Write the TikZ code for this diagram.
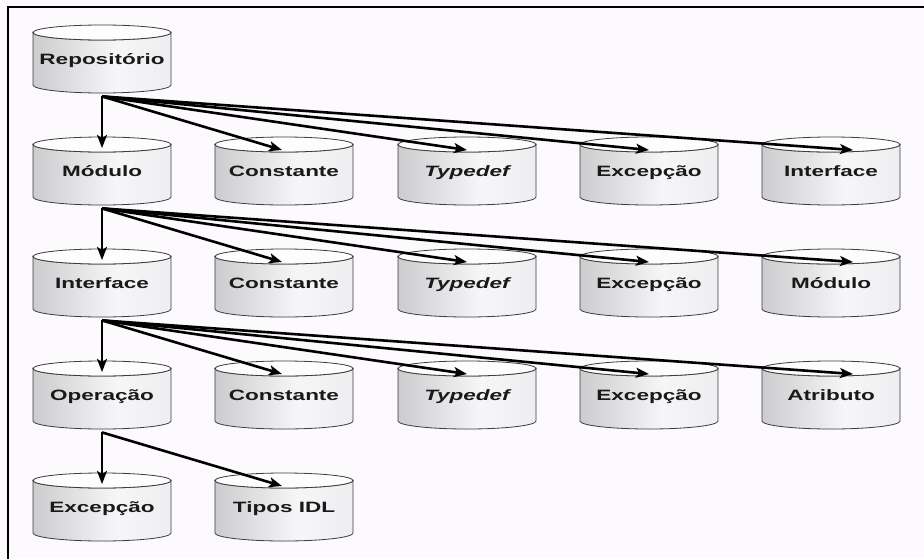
\documentclass[tikz,border=0pt]{standalone}
\usepackage{fontspec}
\setmainfont{Liberation Sans}
\usetikzlibrary{arrows.meta}
\definecolor{paper}{RGB}{253,250,253}
\definecolor{rim}{RGB}{60,60,60}
\definecolor{bodyL}{RGB}{160,160,162}
\definecolor{bodyM}{RGB}{246,246,248}
\definecolor{bodyR}{RGB}{205,205,207}
\definecolor{lid}{RGB}{253,253,254}
\definecolor{ink}{RGB}{25,25,25}
\pgfdeclarehorizontalshading{cylshade}{100bp}{color(0bp)=(bodyL); color(18bp)=(bodyL!60!bodyM); color(55bp)=(bodyM); color(85bp)=(bodyM!70!bodyR); color(100bp)=(bodyR)}
\tikzset{
  cylbody/.style={shading=cylshade, draw=rim, line width=0.8pt},
  cyllid/.style={fill=lid, draw=rim, line width=0.8pt},
  cylnode/.style={minimum width=138pt, minimum height=68pt, inner sep=0pt, anchor=north,
    text height=10.5pt, text depth=3pt, text=ink, font=\fontsize{15}{17}\selectfont\bfseries},
  link/.style={line width=2.6pt, -{Stealth[length=13pt,width=10pt,inset=3pt]}},
  frameline/.style={line width=2.5pt, line cap=rect}
}
% #1 name, #2 centre x, #3 top y, #4 label
\newcommand\dbcyl[4]{%
  \begin{scope}[shift={(#2,#3)}]
    \shadedraw[cylbody] (-69,7.5) -- (-69,60)
      arc[start angle=180, end angle=0, x radius=69, y radius=8]
      -- (69,7.5)
      arc[start angle=0, end angle=180, x radius=69, y radius=7.5] -- cycle;
    \draw[cyllid] (0,7.5) ellipse[x radius=69, y radius=7.5];
  \end{scope}
  \node[cylnode] (#1) at (#2,#3+2) {\scalebox{1.5}[1]{#4}};
}
\begin{document}
\begin{tikzpicture}[x=1pt, y=-1pt]
  \useasboundingbox (0,0) rectangle (924,558);
  \fill[paper] (0,0) rectangle (924,558);
  \draw[frameline] (8,560) -- (8,7) -- (926,7);

  % row 0
  \dbcyl{rep}{102}{25}{Repositório}
  % row 1
  \dbcyl{mod}{102}{137}{Módulo}
  \dbcyl{modC}{284}{137}{Constante}
  \dbcyl{modT}{467}{137}{\itshape Typedef}
  \dbcyl{modE}{649}{137}{Excepção}
  \dbcyl{modI}{831}{137}{Interface}
  % row 2
  \dbcyl{itf}{102}{249}{Interface}
  \dbcyl{itfC}{284}{249}{Constante}
  \dbcyl{itfT}{467}{249}{\itshape Typedef}
  \dbcyl{itfE}{649}{249}{Excepção}
  \dbcyl{itfM}{831}{249}{Módulo}
  % row 3
  \dbcyl{op}{102}{361}{Operação}
  \dbcyl{opC}{284}{361}{Constante}
  \dbcyl{opT}{467}{361}{\itshape Typedef}
  \dbcyl{opE}{649}{361}{Excepção}
  \dbcyl{opA}{831}{361}{Atributo}
  % row 4
  \dbcyl{exc}{102}{473}{Excepção}
  \dbcyl{idl}{284}{473}{Tipos IDL}

  % containment links
  \draw[link] ([yshift=-1pt]rep.south) -- ([yshift=-9pt]mod.north);
  \draw[link] ([yshift=-1pt]rep.south) -- ([xshift=-2pt,yshift=-11pt]modC.north);
  \draw[link] ([yshift=-1pt]rep.south) -- ([yshift=-11pt]modT.north);
  \draw[link] ([yshift=-1pt]rep.south) -- ([yshift=-11pt]modE.north);
  \draw[link] ([yshift=-1pt]rep.south) -- ([xshift=22pt,yshift=-11pt]modI.north);

  \draw[link] ([yshift=-1pt]mod.south) -- ([yshift=-9pt]itf.north);
  \draw[link] ([yshift=-1pt]mod.south) -- ([xshift=-2pt,yshift=-11pt]itfC.north);
  \draw[link] ([yshift=-1pt]mod.south) -- ([yshift=-11pt]itfT.north);
  \draw[link] ([yshift=-1pt]mod.south) -- ([yshift=-11pt]itfE.north);
  \draw[link] ([yshift=-1pt]mod.south) -- ([xshift=22pt,yshift=-11pt]itfM.north);

  \draw[link] ([yshift=-1pt]itf.south) -- ([yshift=-9pt]op.north);
  \draw[link] ([yshift=-1pt]itf.south) -- ([xshift=-2pt,yshift=-11pt]opC.north);
  \draw[link] ([yshift=-1pt]itf.south) -- ([yshift=-11pt]opT.north);
  \draw[link] ([yshift=-1pt]itf.south) -- ([yshift=-11pt]opE.north);
  \draw[link] ([yshift=-1pt]itf.south) -- ([xshift=22pt,yshift=-11pt]opA.north);

  \draw[link] ([yshift=-1pt]op.south) -- ([yshift=-9pt]exc.north);
  \draw[link] ([yshift=-1pt]op.south) -- ([xshift=-2pt,yshift=-11pt]idl.north);
\end{tikzpicture}
\end{document}
